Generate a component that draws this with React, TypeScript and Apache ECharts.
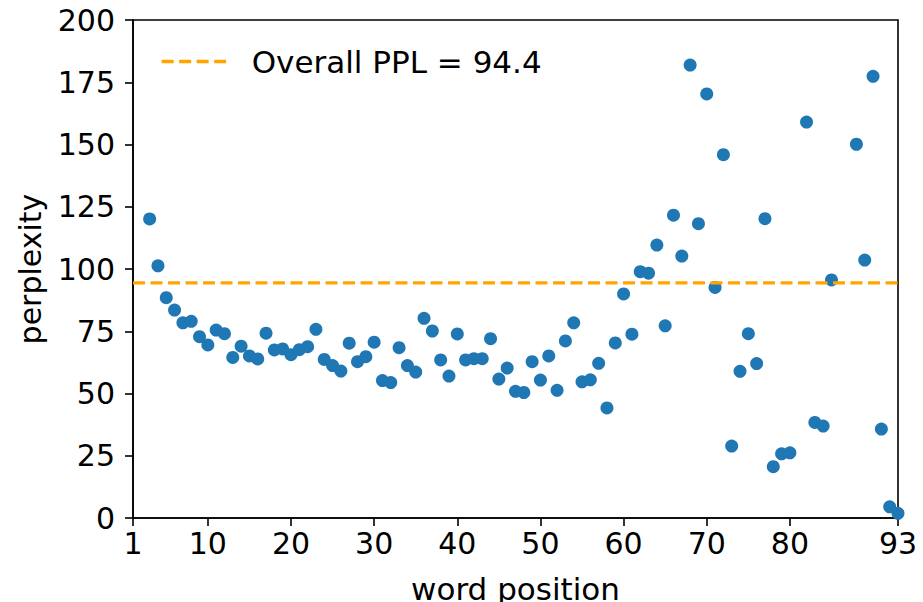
import React, { useEffect, useRef } from "react";
import * as echarts from "echarts";

const positions = [
  3, 4, 5, 6, 7, 8, 9, 10, 11, 12, 13, 14, 15, 16, 17, 18, 19, 20, 21, 22, 23, 24, 25,
  26, 27, 28, 29, 30, 31, 32, 33, 34, 35, 36, 37, 38, 39, 40, 41, 42, 43, 44, 45, 46, 47,
  48, 49, 50, 51, 52, 53, 54, 55, 56, 57, 58, 59, 60, 61, 62, 63, 64, 65, 66, 67, 68, 69,
  70, 71, 72, 73, 74, 75, 76, 77, 78, 79, 80, 82, 83, 84, 85, 88, 89, 90, 91, 92, 93,
];
const perplexity = [
  120.1, 101.3, 88.5, 83.5, 78.4, 79.0, 72.8, 69.5, 75.5, 74.0, 64.5, 69.0, 65.1, 63.9,
  74.2, 67.5, 67.9, 65.6, 67.6, 68.8, 75.8, 63.7, 61.2,
  59.0, 70.2, 62.8, 64.8, 70.6, 55.2, 54.4, 68.4, 61.2, 58.6, 80.2, 75.1, 63.5, 57.0,
  73.9, 63.5, 64.0, 64.0, 72.0, 55.8, 60.2, 50.9,
  50.4, 62.8, 55.4, 65.1, 51.3, 71.1, 78.4, 54.7, 55.5, 62.1, 44.2, 70.3, 90.0, 73.8,
  98.9, 98.3, 109.6, 77.2, 121.6, 105.2, 181.9, 118.2,
  170.3, 92.6, 145.9, 28.9, 58.9, 74.0, 62.0, 120.2, 20.6, 25.8, 26.2, 159.0, 38.4, 36.9,
  95.6, 150.1, 103.6, 177.4, 35.7, 4.5, 1.9,
];
const OVERALL_PPL = 94.4;
const overallName = "Overall PPL = 94.4";
const xTicks = [1, 10, 20, 30, 40, 50, 60, 70, 80, 93];
const xRange = [1, 93];

export default function App() {
  const ref = useRef<HTMLDivElement>(null);
  useEffect(() => {
    if (!ref.current) return;
    const chart = echarts.init(ref.current, null, { renderer: "svg", width: 923, height: 602 });
    const font = "DejaVu Sans";
    chart.setOption({
      animation: false,
      backgroundColor: "#ffffff",
      textStyle: { fontFamily: font },
      grid: {
        left: 133,
        width: 765,
        top: 20,
        height: 498,
        outerBoundsMode: "none",
        containLabel: false,
        show: true,
        borderColor: "#000",
        borderWidth: 1.6,
        backgroundColor: "transparent",
      },
      legend: {
        data: [overallName],
        left: 160,
        top: 46,
        padding: 0,
        itemWidth: 66,
        itemHeight: 14,
        itemStyle: { opacity: 0 },
        lineStyle: { type: [12, 5.5], width: 3.3, color: "#FFA500" },
        textStyle: {
          fontFamily: font,
          fontSize: 31,
          color: "#000",
          padding: [0, 0, 0, 19],
        },
      },
      xAxis: {
        type: "value",
        min: xRange[0],
        max: xRange[1],
        name: "word position",
        nameLocation: "middle",
        nameGap: 55,
        nameTextStyle: { fontFamily: font, fontSize: 31, color: "#000" },
        axisLine: { show: true, lineStyle: { color: "#000", width: 1.6 } },
        axisTick: {
          show: true,
          length: 8,
          lineStyle: { color: "#000", width: 1.6 },
          customValues: xTicks,
        },
        axisLabel: {
          fontFamily: font,
          fontSize: 30,
          color: "#000",
          margin: 10,
          customValues: xTicks,
        },
        splitLine: { show: false },
      },
      yAxis: {
        type: "value",
        min: 0,
        max: 200,
        interval: 25,
        name: "perplexity",
        nameLocation: "middle",
        nameGap: 88,
        nameTextStyle: { fontFamily: font, fontSize: 30, color: "#000" },
        axisLine: { show: true, lineStyle: { color: "#000", width: 1.6 } },
        axisTick: { show: true, length: 8, lineStyle: { color: "#000", width: 1.6 } },
        axisLabel: { fontFamily: font, fontSize: 30, color: "#000", margin: 18 },
        splitLine: { show: false },
      },
      series: [
        {
          type: "scatter",
          name: "ppl",
          data: positions.map((p, i) => [p, perplexity[i]]),
          symbolSize: 13,
          itemStyle: { color: "#1f77b4", opacity: 1 },
          z: 2,
        },
        {
          type: "line",
          name: overallName,
          data: xRange.map((x) => [x, OVERALL_PPL]),
          symbol: "none",
          showSymbol: false,
          lineStyle: { type: [12, 5.5], width: 3.3, color: "#FFA500" },
          itemStyle: { color: "#FFA500" },
          z: 3,
        },
      ],
    });
    return () => chart.dispose();
  }, []);
  return (
    <div
      ref={ref}
      style={{ position: "fixed", left: 0, top: 0, width: 923, height: 602 }}
    />
  );
}
